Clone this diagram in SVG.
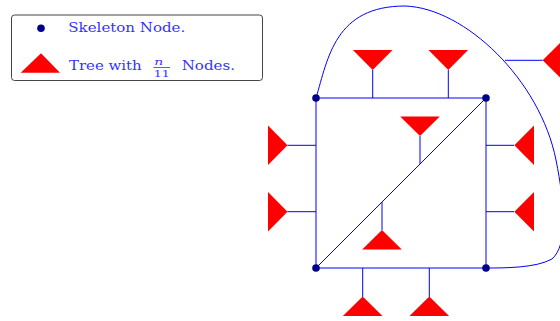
<svg xmlns="http://www.w3.org/2000/svg" width="560" height="321" viewBox="0 0 560 321">
<style>
.e{stroke:#0000ff;stroke-width:1;fill:none}
.t{fill:#ff0000;stroke:none}
.n{fill:#00008b}
.lbl{font-family:"DejaVu Serif","Liberation Serif",serif;font-size:12px;fill:#3333ff}
.frac{font-family:"DejaVu Serif","Liberation Serif",serif;font-size:10px;fill:#3333ff}
</style>
<rect width="560" height="321" fill="#ffffff"/>
<g id="legend">
<rect x="11.5" y="15" width="251" height="65.5" rx="3" ry="3" fill="#ffffff" stroke="#444444" stroke-width="1"/>
<circle cx="41" cy="28.3" r="3.8" class="n"/>
<text x="68.3" y="31.5" class="lbl" textLength="117" lengthAdjust="spacingAndGlyphs">Skeleton Node.</text>
<polygon points="20.7,72.7 60,72.7 41,53.3" class="t"/>
<text x="69" y="69.5" class="lbl" textLength="72.7" lengthAdjust="spacingAndGlyphs">Tree with</text>
<text x="154.3" y="64.8" class="frac" font-style="italic" font-size="12" textLength="9" lengthAdjust="spacingAndGlyphs">n</text>
<line x1="153.3" y1="67.5" x2="170" y2="67.5" stroke="#3333ff" stroke-width="0.8"/>
<text x="153.7" y="77" class="frac" textLength="16" lengthAdjust="spacingAndGlyphs">11</text>
<text x="181.7" y="69.5" class="lbl" textLength="53.3" lengthAdjust="spacingAndGlyphs">Nodes.</text>
</g>
<g id="connectors">
<line x1="316" y1="98" x2="486" y2="98" class="e"/>
<line x1="316" y1="268" x2="486" y2="268" class="e"/>
<line x1="316" y1="98" x2="316" y2="268" class="e"/>
<line x1="486" y1="98" x2="486" y2="268" class="e"/>
<line x1="316" y1="268" x2="486" y2="98" class="e" stroke-width="1.2"/>
<path d="M316,98 C328,58 335,6 405,6 C465,8 540,80 556,160 C565,205 568,245 552,259 C536,268 505,268 486,268" class="e"/>
<line x1="372.7" y1="70" x2="372.7" y2="98" class="e"/>
<line x1="448.3" y1="70" x2="448.3" y2="98" class="e"/>
<line x1="420" y1="136" x2="420" y2="164" class="e"/>
<line x1="382" y1="202" x2="382" y2="230" class="e"/>
<line x1="362.7" y1="268" x2="362.7" y2="297" class="e"/>
<line x1="429.3" y1="268" x2="429.3" y2="297" class="e"/>
<line x1="287.3" y1="145.3" x2="316" y2="145.3" class="e"/>
<line x1="287.3" y1="211.7" x2="316" y2="211.7" class="e"/>
<line x1="486" y1="145.3" x2="514" y2="145.3" class="e"/>
<line x1="486" y1="211.7" x2="514" y2="211.7" class="e"/>
<line x1="505" y1="60.3" x2="542.7" y2="60.3" class="e"/>
</g>
<g id="tree-top-1"><polygon points="352.9,50 392.5,50 372.7,70" class="t"/></g>
<g id="tree-top-2"><polygon points="428.5,50 468.1,50 448.3,70" class="t"/></g>
<g id="tree-center-top"><polygon points="400.2,116.5 439.8,116.5 420,136" class="t"/></g>
<g id="tree-center-bottom"><polygon points="362.2,249.5 401.8,249.5 382,230" class="t"/></g>
<g id="tree-bottom-1"><polygon points="342.9,316 382.5,316 362.7,296.5" class="t"/></g>
<g id="tree-bottom-2"><polygon points="409.5,316 449.1,316 429.3,296.5" class="t"/></g>
<g id="tree-left-1"><polygon points="268,125.5 268,165.1 287.5,145.3" class="t"/></g>
<g id="tree-left-2"><polygon points="268,191.9 268,231.5 287.5,211.7" class="t"/></g>
<g id="tree-right-1"><polygon points="534,125.5 534,165.1 514.3,145.3" class="t"/></g>
<g id="tree-right-2"><polygon points="534,191.9 534,231.5 514.3,211.7" class="t"/></g>
<g id="tree-far-right"><polygon points="562.5,40.5 562.5,80.1 542.7,60.3" class="t"/></g>
<g id="node-tl"><circle cx="316" cy="98" r="3.8" class="n"/></g>
<g id="node-tr"><circle cx="486" cy="98" r="3.8" class="n"/></g>
<g id="node-bl"><circle cx="316" cy="268" r="3.8" class="n"/></g>
<g id="node-br"><circle cx="486" cy="268" r="3.8" class="n"/></g>
</svg>
